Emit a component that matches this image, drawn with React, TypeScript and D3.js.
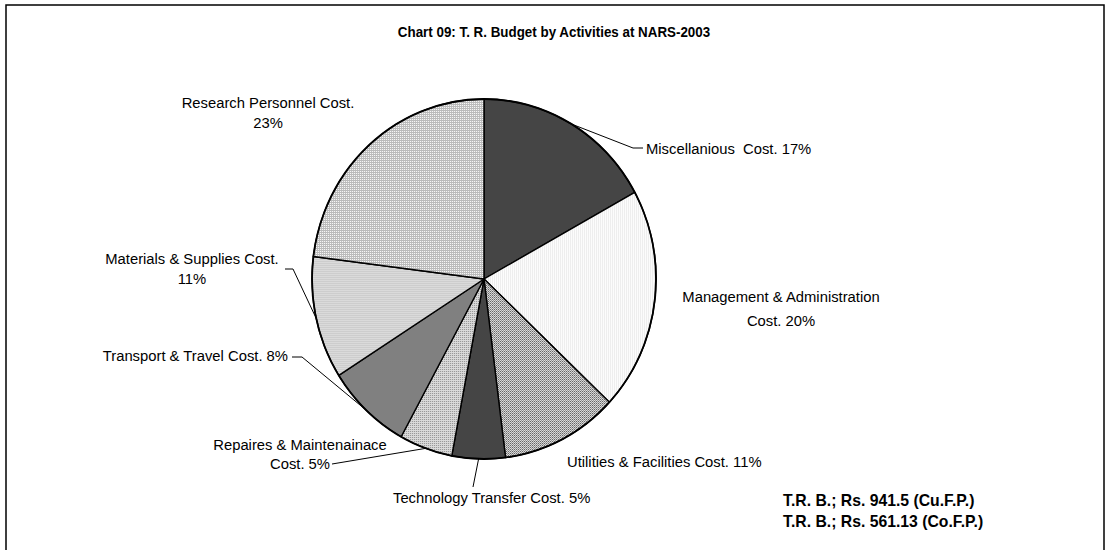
import React from "react";
import * as d3 from "d3";

// ---------- data ----------
const categories = [
  "Miscellanious  Cost.",
  "Management & Administration Cost.",
  "Utilities & Facilities Cost.",
  "Technology Transfer Cost.",
  "Repaires & Maintenainace Cost.",
  "Transport & Travel Cost.",
  "Materials & Supplies Cost.",
  "Research Personnel Cost.",
];
const values = [17, 20, 11, 5, 5, 8, 11, 23];
const titleText = "Chart 09: T. R. Budget by Activities at NARS-2003";
const footnotes = ["T.R. B.; Rs. 941.5 (Cu.F.P.)", "T.R. B.; Rs. 561.13 (Co.F.P.)"];

// ---------- layout / style ----------
const W = 1108;
const H = 550;
const CX = 484;
const CY = 279;
const R = 180;
const SX = 172 / 180; // horizontal squeeze of the original picture
const FONT = "'Liberation Sans', Arial, sans-serif";

type Split = "none" | "cost" | "pct";
interface LabelLayout {
  x: number;
  ys: number[];
  anchor: "start" | "middle" | "end";
  split: Split;
  leader: [number, number][] | null;
}

const labelLayout: LabelLayout[] = [
  { x: 646, ys: [149], anchor: "start", split: "none", leader: [[643, 148], [633, 148]] },
  { x: 781, ys: [297, 321], anchor: "middle", split: "cost", leader: null },
  { x: 567, ys: [462], anchor: "start", split: "none", leader: null },
  { x: 393, ys: [498], anchor: "start", split: "none", leader: [[473, 487]] },
  { x: 300, ys: [445, 464], anchor: "middle", split: "cost", leader: [[332, 464]] },
  { x: 288, ys: [356], anchor: "end", split: "none", leader: [[292, 357], [302, 357]] },
  { x: 192, ys: [259, 279], anchor: "middle", split: "pct", leader: [[285, 269], [293, 269]] },
  { x: 268, ys: [103, 123], anchor: "middle", split: "pct", leader: null },
];

const fills = [
  "#454545",
  "url(#p-mgmt)",
  "url(#p-util)",
  "#454545",
  "url(#p-rep)",
  "#808080",
  "url(#p-mat)",
  "url(#p-res)",
];

function labelLines(i: number): string[] {
  const name = categories[i];
  const pct = `${values[i]}%`;
  const s = labelLayout[i].split;
  if (s === "cost") {
    const base = name.replace(/\s*Cost\.$/, "");
    return [base, `Cost. ${pct}`];
  }
  if (s === "pct") return [name, pct];
  return [`${name} ${pct}`];
}

const patT = `scale(${1 / SX},1)`;

export default function App() {
  const pie = d3
    .pie<number>()
    .sort(null)
    .value((d) => d)
    .startAngle(0)
    .endAngle(2 * Math.PI);
  const arcs = pie(values);
  const arcGen = d3.arc<d3.PieArcDatum<number>>().innerRadius(0).outerRadius(R);
  const edgeGen = d3.arc<d3.PieArcDatum<number>>().innerRadius(R).outerRadius(R);

  return (
    <svg
      width={W}
      height={H}
      style={{ position: "absolute", left: 0, top: 0, background: "#fff" }}
    >
      <defs>
        <pattern id="p-mgmt" width={2} height={2} patternUnits="userSpaceOnUse" patternTransform={patT}>
          <rect width={2} height={2} fill="#ffffff" />
          <rect width={1} height={2} fill="#ececec" />
        </pattern>
        <pattern id="p-util" width={2} height={2} patternUnits="userSpaceOnUse" patternTransform={patT}>
          <rect width={2} height={2} fill="#e6e6e6" />
          <rect width={1} height={1} fill="#555555" />
          <rect x={1} y={1} width={1} height={1} fill="#8a8a8a" />
        </pattern>
        <pattern id="p-rep" width={2} height={2} patternUnits="userSpaceOnUse" patternTransform={patT}>
          <rect width={2} height={2} fill="#dadada" />
          <rect width={1} height={1} fill="#909090" />
        </pattern>
        <pattern id="p-mat" width={2} height={2} patternUnits="userSpaceOnUse" patternTransform={patT}>
          <rect width={2} height={2} fill="#dadada" />
          <rect width={2} height={1} fill="#cdcdcd" />
        </pattern>
        <pattern id="p-res" width={2} height={2} patternUnits="userSpaceOnUse" patternTransform={patT}>
          <rect width={2} height={2} fill="#bababa" />
          <rect width={1} height={1} fill="#ffffff" />
        </pattern>
      </defs>

      {/* frame */}
      <rect x={6} y={5} width={1098} height={600} fill="none" stroke="#000" strokeWidth={1.5} />

      {/* title */}
      <text
        transform={`translate(${W / 2},${32}) scale(${SX},1)`}
        dy="0.35em"
        textAnchor="middle"
        fontFamily={FONT}
        fontWeight="bold"
        fontSize={14}
        fill="#000"
      >
        {titleText}
      </text>

      {/* pie */}
      <g transform={`translate(${CX},${CY}) scale(${SX},1)`}>
        {arcs.map((a, i) => (
          <path
            key={i}
            d={arcGen(a) || ""}
            fill={fills[i]}
            stroke="#000"
            strokeWidth={1.4}
            strokeLinejoin="round"
            vectorEffect="non-scaling-stroke"
          />
        ))}
        <ellipse rx={R} ry={R} fill="none" stroke="#000" strokeWidth={1.8} vectorEffect="non-scaling-stroke" />
      </g>

      {/* leader lines */}
      {arcs.map((a, i) => {
        const L = labelLayout[i];
        if (!L.leader) return null;
        const [ex, ey] = edgeGen.centroid(a);
        const pts: [number, number][] = [...L.leader, [CX + ex * SX, CY + ey]];
        return (
          <polyline
            key={`l${i}`}
            points={pts.map((p) => p.join(",")).join(" ")}
            fill="none"
            stroke="#000"
            strokeWidth={1}
          />
        );
      })}

      {/* labels */}
      {arcs.map((a, i) => {
        const L = labelLayout[i];
        return labelLines(i).map((t, j) => (
          <text
            key={`t${i}-${j}`}
            transform={`translate(${L.x},${L.ys[j]}) scale(${SX},1)`}
            dy="0.35em"
            textAnchor={L.anchor}
            fontFamily={FONT}
            fontSize={15.5}
            fill="#000"
            style={{ whiteSpace: "pre" }}
          >
            {t}
          </text>
        ));
      })}

      {/* footnotes */}
      {footnotes.map((t, j) => (
        <text
          key={`f${j}`}
          transform={`translate(783,${500 + j * 21}) scale(${SX},1)`}
          dy="0.35em"
          fontFamily={FONT}
          fontWeight="bold"
          fontSize={16.5}
          fill="#000"
        >
          {t}
        </text>
      ))}
    </svg>
  );
}
